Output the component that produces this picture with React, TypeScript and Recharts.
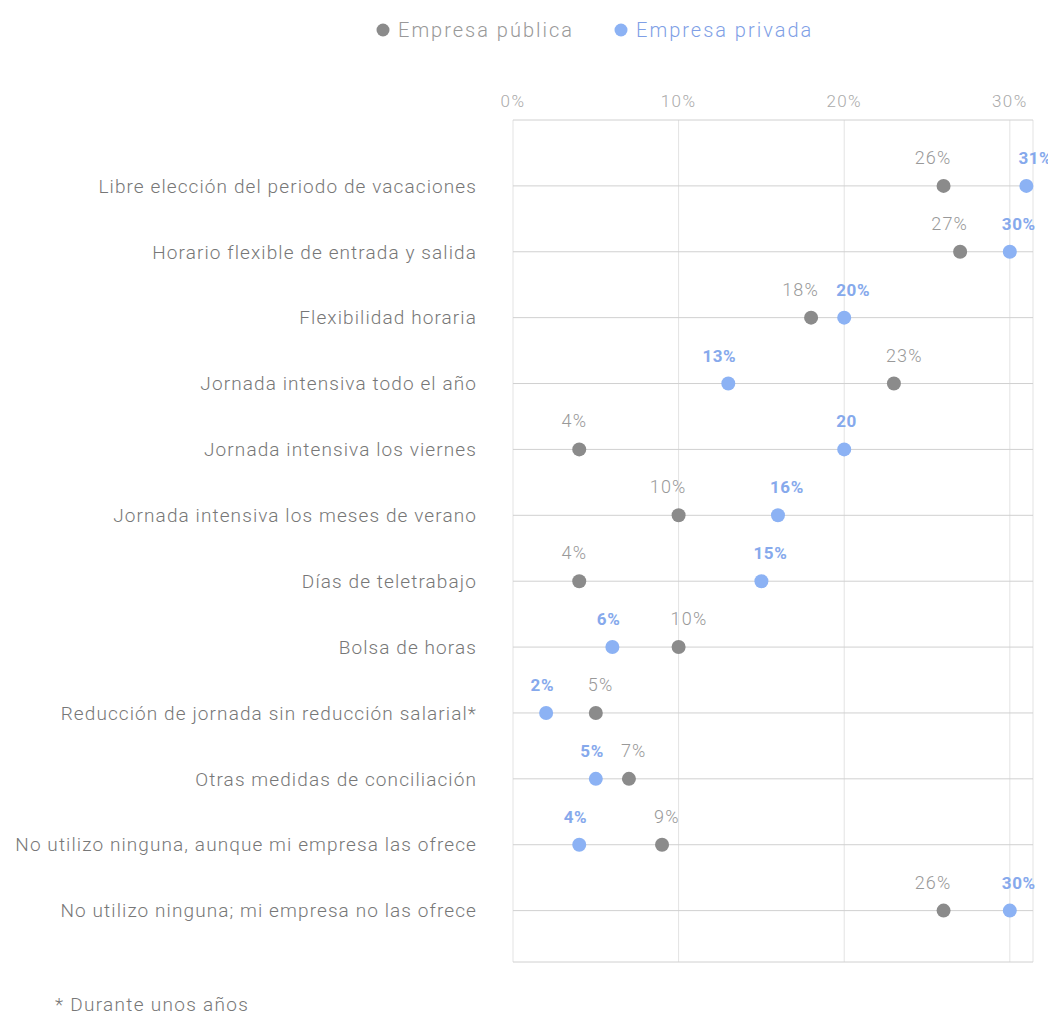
import React from 'react';
import { ScatterChart, Scatter, XAxis, YAxis, CartesianGrid, Legend } from 'recharts';

const categorias = [
  'Libre elección del periodo de vacaciones',
  'Horario flexible de entrada y salida',
  'Flexibilidad horaria',
  'Jornada intensiva todo el año',
  'Jornada intensiva los viernes',
  'Jornada intensiva los meses de verano',
  'Días de teletrabajo',
  'Bolsa de horas',
  'Reducción de jornada sin reducción salarial*',
  'Otras medidas de conciliación',
  'No utilizo ninguna, aunque mi empresa las ofrece',
  'No utilizo ninguna; mi empresa no las ofrece',
];

const publica = [26, 27, 18, 23, 4, 10, 4, 10, 5, 7, 9, 26];
const privada = [31, 30, 20, 13, 20, 16, 15, 6, 2, 5, 4, 30];

// la etiqueta de los viernes sale sin el signo de porcentaje
const privadaSinPct = [4];

const xTicks = [0, 10, 20, 30];

const GRIS = '#8b8b8b';
const AZUL = '#8cb2f4';
const FONT = 'Roboto, "Open Sans", sans-serif';

// el punto de la izquierda lleva la etiqueta hacia la izquierda y viceversa
const publicaData = categorias.map((c, i) => ({ fila: i, valor: publica[i], nombre: c, izq: publica[i] < privada[i] }));
const privadaData = categorias.map((c, i) => ({
  fila: i,
  valor: privada[i],
  nombre: c,
  izq: privada[i] < publica[i],
  pct: !privadaSinPct.includes(i),
}));

const PuntoPublica = (p: any) => (
  <g>
    <circle cx={p.cx} cy={p.cy} r={7} fill={GRIS} />
    <text
      x={p.payload.izq ? p.cx + 8 : p.cx - 8}
      y={p.cy - 22}
      textAnchor={p.payload.izq ? 'end' : 'start'}
      fontSize={18}
      fontWeight={300}
      letterSpacing={1.2}
      fill="#999"
      fontFamily={FONT}
    >
      {p.payload.valor}%
    </text>
  </g>
);

const PuntoPrivada = (p: any) => (
  <g>
    <circle cx={p.cx} cy={p.cy} r={7} fill={AZUL} />
    <text
      x={p.payload.izq ? p.cx + 8 : p.cx - 8}
      y={p.cy - 22}
      textAnchor={p.payload.izq ? 'end' : 'start'}
      fontSize={17}
      fontWeight={700}
      letterSpacing={0.6}
      fill="#86a9ec"
      fontFamily={FONT}
    >
      {p.payload.valor}
      {p.payload.pct ? '%' : ''}
    </text>
  </g>
);

const renderLegend = () => (
  <div style={{ display: 'flex', gap: 40, fontFamily: FONT, fontSize: 20, fontWeight: 300, letterSpacing: 2, paddingLeft: 368 }}>
    <span style={{ display: 'flex', alignItems: 'center', color: '#999' }}>
      <svg width={14} height={14} style={{ marginRight: 8 }}><circle cx={7} cy={7} r={6.5} fill={GRIS} /></svg>
      Empresa pública
    </span>
    <span style={{ display: 'flex', alignItems: 'center', color: '#7f9fe6' }}>
      <svg width={14} height={14} style={{ marginRight: 8 }}><circle cx={7} cy={7} r={6.5} fill={AZUL} /></svg>
      Empresa privada
    </span>
  </div>
);

export default function App() {
  return (
    <div style={{ position: 'relative', width: 1048, height: 1007, fontFamily: FONT }}>
      <ScatterChart width={1048} height={1007} margin={{ top: 72, right: 23, bottom: 53, left: 0 }}>
        <CartesianGrid stroke="#e3e3e3" horizontal={false} />
        <CartesianGrid stroke="#d0d0d0" vertical={false} />
        <XAxis
          type="number"
          dataKey="valor"
          orientation="top"
          domain={[0, 31.4]}
          ticks={xTicks}
          tickFormatter={(v: number) => `${v}%`}
          axisLine={false}
          tickLine={false}
          tickSize={0}
          tickMargin={13}
          height={40}
          tick={{ fill: '#aaa', fontSize: 17, fontWeight: 300, fontFamily: FONT, letterSpacing: 1.4 }}
        />
        <YAxis
          type="number"
          dataKey="fila"
          reversed
          domain={[-1.0, 11.78]}
          ticks={categorias.map((_, i) => i)}
          interval={0}
          tickFormatter={(i: number) => categorias[i] ?? ''}
          axisLine={false}
          tickLine={false}
          tickSize={0}
          tickMargin={36}
          width={505}
          tick={{ fill: '#777', fontSize: 19, fontWeight: 300, fontFamily: FONT, letterSpacing: 1.1 }}
        />
        <Legend
          layout="horizontal"
          verticalAlign="middle"
          align="center"
          wrapperStyle={{ top: 10, left: 0, width: 1048 }}
          content={renderLegend}
        />
        <Scatter name="Empresa pública" data={publicaData} fill={GRIS} shape={PuntoPublica} isAnimationActive={false} />
        <Scatter name="Empresa privada" data={privadaData} fill={AZUL} shape={PuntoPrivada} isAnimationActive={false} />
      </ScatterChart>
      <div style={{ position: 'absolute', left: 47, top: 985, fontSize: 19, fontWeight: 300, letterSpacing: 1.3, color: '#777' }}>
        * Durante unos años
      </div>
    </div>
  );
}
